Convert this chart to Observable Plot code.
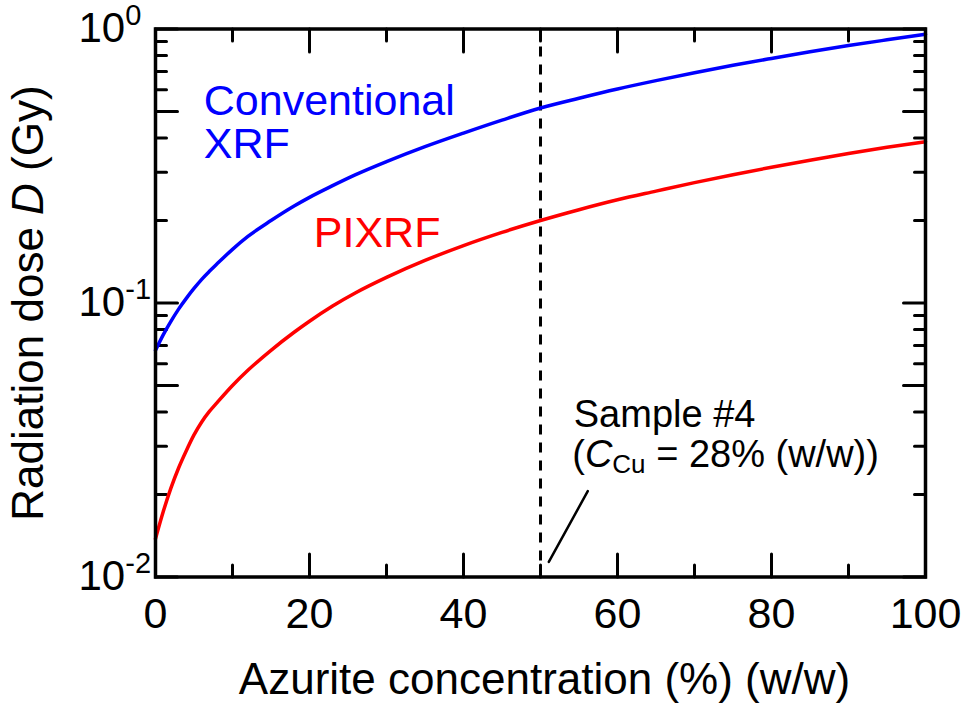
<!DOCTYPE html>
<html><head><meta charset="utf-8">
<script src="https://cdn.jsdelivr.net/npm/d3@7"></script>
<script src="https://cdn.jsdelivr.net/npm/@observablehq/plot@0.6"></script>
<style>
body{margin:0;background:#fff}
#chart svg{display:block}
</style>
</head><body><div id="chart"></div>
<script>
// ---- data ----
const concentration = [0,1,2,3,4,5,6,7,8,10,12,15,18,20,23,26,30,35,40,45,50,55,60,65,70,75,80,85,90,95,100];
const doseXRF   = [0.0672,0.0765,0.0857,0.0950,0.1040,0.1130,0.1220,0.1305,0.1390,0.157,0.175,0.200,0.226,0.243,0.268,0.294,0.328,0.372,0.417,0.465,0.515,0.559,0.604,0.648,0.692,0.737,0.781,0.826,0.870,0.913,0.957];
const dosePIXRF = [0.0138,0.0173,0.0211,0.0250,0.0289,0.0330,0.0368,0.0402,0.0433,0.0500,0.0568,0.0672,0.0782,0.0858,0.0975,0.109,0.124,0.143,0.162,0.181,0.200,0.219,0.238,0.256,0.275,0.294,0.313,0.332,0.351,0.370,0.388];

const xMajorTicks = [0,20,40,60,80,100];
const xMinorTicks = [10,30,50,70,90];
const yMajorTicks = [0.01,0.05,0.1,0.5,1];
const yMinorTicks = [0.02,0.03,0.04,0.06,0.07,0.08,0.09,0.2,0.3,0.4,0.6,0.7,0.8,0.9];
const yLabelValues = [0.01,0.1,1];
const yLabelTexts = ["10^-2","10^-1","10^0"];

const sampleConcentration = 50;
const leaderLine = [{x:51.08,y:0.01136},{x:56.14,y:0.02057}];

const seriesLabels = [
  {text:"Conventional\nXRF", x:6.27, y:0.3391, color:"#0000ff"},
  {text:"PIXRF", x:20.56, y:0.160, color:"#ff0000"}
];
const annotationLines = [
  {text:"Sample #4", x:54.32, y:0.0353},
  {text:"(C_Cu = 28% (w/w))", x:54.12, y:0.0251}
];
const xTitle = "Azurite concentration (%) (w/w)";
const yTitle = "Radiation dose D (Gy)";

// ---- build ----
const rows = [];
concentration.forEach((c,i)=>{
  rows.push({c, dose:doseXRF[i], series:"Conventional XRF"});
  rows.push({c, dose:dosePIXRF[i], series:"PIXRF"});
});

const stick = {draw(ctx, l){ ctx.moveTo(0,0); ctx.lineTo(0,-l); }};
const tickW = 3;
const FONT = "'Liberation Sans', Arial, Helvetica, sans-serif";

function ticksY(vals, len, side){
  return Plot.vector(vals, {y:d=>d, frameAnchor:side, length:len, rotate: side==="left"?90:-90,
    anchor:"start", shape:stick, stroke:"black", strokeWidth:tickW});
}
function ticksX(vals, len, side){
  return Plot.vector(vals, {x:d=>d, frameAnchor:side, length:len, rotate: side==="bottom"?0:180,
    anchor:"start", shape:stick, stroke:"black", strokeWidth:tickW});
}

const plot = Plot.plot({
  width:961, height:704,
  marginLeft:155, marginRight:36, marginTop:28.5, marginBottom:127.5,
  style:{fontFamily:FONT, background:"#fff", color:"black", overflow:"visible"},
  x:{domain:[0,100], axis:null},
  y:{type:"log", domain:[0.01,1], axis:null},
  marks:[
    ticksY(yMajorTicks,22,"left"), ticksY(yMinorTicks,11,"left"),
    ticksY(yMajorTicks,22,"right"), ticksY(yMinorTicks,11,"right"),
    ticksX(xMajorTicks,23,"bottom"), ticksX(xMinorTicks,12,"bottom"),
    ticksX(xMajorTicks,23,"top"), ticksX(xMinorTicks,12,"top"),
    Plot.ruleX([sampleConcentration], {stroke:"black", strokeWidth:3, strokeDasharray:"10,8"}),
    Plot.line(rows, {x:"c", y:"dose", z:"series", stroke:d=>d.series==="PIXRF"?"#ff0000":"#0000ff", strokeWidth:3.5, curve:"monotone-x"}),
    Plot.line(leaderLine, {x:"x", y:"y", stroke:"black", strokeWidth:2.5}),
    Plot.frame({stroke:"black", strokeWidth:3.5}),
    Plot.text(seriesLabels, {x:"x", y:"y", text:"text", fill:d=>d.color, textAnchor:"start", lineAnchor:"bottom", lineHeight:0.985, fontSize:43}),
    Plot.text(annotationLines, {x:"x", y:"y", text:"text", fill:"black", textAnchor:"start", lineAnchor:"bottom", fontSize:38}),
    Plot.text(xMajorTicks, {x:d=>d, text:d=>String(d), frameAnchor:"bottom", lineAnchor:"top", dy:20, fontSize:43, fill:"black"}),
    Plot.text(yLabelValues, {y:d=>d, text:(d,i)=>yLabelTexts[i], frameAnchor:"left", textAnchor:"start", lineAnchor:"middle", dx:-77, fontSize:42, fill:"black"}),
    Plot.text([xTitle], {text:d=>d, frameAnchor:"bottom", lineAnchor:"bottom", dx:4, dy:116.5, fontSize:44, fill:"black"}),
    Plot.text([yTitle], {text:d=>d, frameAnchor:"left", rotate:-90, textAnchor:"middle", lineAnchor:"bottom", dx:-113, fontSize:44, fill:"black"})
  ]
});
document.getElementById("chart").appendChild(plot);

// ---- rich text (italic / super / subscripts) ----
const svg = d3.select(plot);
svg.selectAll("text").each(function(){
  const s = this.textContent;
  const t = d3.select(this);
  if (/^10\^/.test(s)) {
    const [base, exp] = s.split("^");
    t.text(null);
    t.append("tspan").text(base);
    t.append("tspan").attr("font-size", 29).attr("dy", -17).text(exp);
  } else if (s === "(C_Cu = 28% (w/w))") {
    t.text(null);
    t.append("tspan").text("(");
    t.append("tspan").attr("font-style","italic").text("C");
    t.append("tspan").attr("font-size", 26).attr("dy", 6).text("Cu");
    t.append("tspan").attr("dy", -6).text(" = 28% (w/w))");
  } else if (s === yTitle) {
    t.text(null);
    t.append("tspan").text("Radiation dose ");
    t.append("tspan").attr("font-style","italic").text("D");
    t.append("tspan").text(" (Gy)");
  }
});
</script>
</body></html>
